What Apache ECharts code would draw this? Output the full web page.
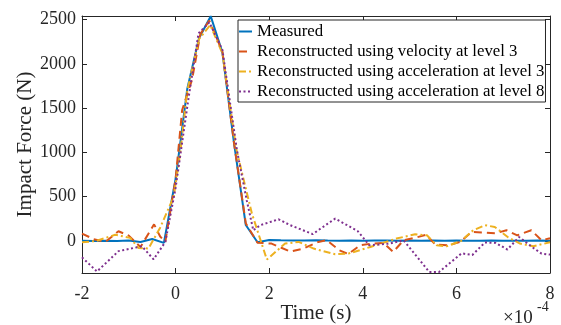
<!DOCTYPE html>
<html>
<head>
<meta charset="utf-8">
<script src="https://cdn.jsdelivr.net/npm/echarts@6/dist/echarts.min.js"></script>
<style>
  html, body { margin: 0; padding: 0; background: #fff; }
  #chart { width: 561px; height: 325px; }
</style>
</head>
<body>
<div id="chart"></div>
<script>
// time in units of 1e-4 s, force in N
const xTicks = [-2, 0, 2, 4, 6, 8];
const yTicks = [0, 500, 1000, 1500, 2000, 2500];

const measuredTime = [-2, -1.75, -1.5, -1.25, -1, -0.75, -0.5, -0.25, 0, 0.25, 0.5, 0.75, 1, 1.25, 1.5, 1.75,
  2, 2.25, 2.5, 2.75, 3, 3.25, 3.5, 3.75, 4, 4.25, 4.5, 4.75, 5, 5.25, 5.5, 5.75, 6, 6.25, 6.5, 6.75, 7, 7.25, 7.5, 7.75, 8];
const measuredForce = [2, 0, 3, 0, 5, -12, 22, -22, 700, 1720, 2290, 2540, 2130, 1100, 180, -15,
  12, 8, 6, 4, 8, 5, 3, 6, 2, 4, 6, 3, 5, 2, 4, 3, 5, 2, 3, 4, 2, 3, 2, 4, 3];

const velocityTime = [-2, -1.75, -1.5, -1.22, -1, -0.75, -0.46, -0.33, -0.22, 0, 0.14, 0.35, 0.53, 0.72, 1, 1.25, 1.5, 1.75,
  2.05, 2.45, 2.73, 3.05, 3.23, 3.5, 3.69, 3.94, 4.2, 4.44, 4.65, 4.87, 5.15, 5.35, 5.55, 5.83, 6.08, 6.33, 6.54, 6.84, 7.07, 7.3, 7.6, 7.82, 8];
const velocityForce = [84, 20, -11, 110, 60, -68, 188, 50, -10, 700, 1480, 1820, 2340, 2490, 2140, 1100, 200, -20,
  -30, -120, -86, -11, 8, -105, -148, -49, -29, -22, -124, 8, 40, 70, -40, -49, -11, 102, 95, 88, 121, 64, 121, 8, 30];

const accel3Time = [-2, -1.7, -1.29, -0.97, -0.79, -0.58, -0.33, -0.04, 0.1, 0.25, 0.5, 0.74, 1, 1.3, 1.63, 1.95,
  2.34, 2.63, 2.95, 3.41, 3.69, 4.16, 4.72, 5.12, 5.37, 5.58, 5.79, 6.1, 6.36, 6.61, 6.82, 7.11, 7.36, 7.64, 8];
const accel3Force = [-15, 0, 70, 35, -80, -85, 150, 500, 1000, 1700, 2280, 2440, 2120, 1030, 310, -210,
  -29, -11, -86, -150, -143, -68, 27, 76, 64, -49, -60, 0, 121, 178, 158, 40, -29, -60, -15];

const accel8Time = [-2, -1.68, -1.22, -0.72, -0.47, -0.22, 0, 0.28, 0.49, 0.72, 1, 1.31, 1.52, 1.66, 1.81, 2.2, 2.45,
  2.93, 3.41, 3.89, 4.14, 4.58, 4.87, 5.22, 5.42, 5.63, 6.11, 6.34, 6.61, 6.84, 7.09, 7.34, 7.64, 7.82, 8];
const accel8Force = [-185, -345, -115, -60, -208, -11, 600, 1628, 2346, 2470, 2160, 1026, 460, 121, 178, 245, 178,
  78, 253, 112, -49, -29, 8, -218, -350, -350, -140, -158, -17, -22, -97, 45, -77, -143, -154];

const pairs = (t, f) => t.map((v, i) => [v, f[i]]);

const font = 'Liberation Serif';
const axisColor = '#262626';

const boxAxis = {
  axisLine: { show: true, onZero: false, lineStyle: { color: axisColor, width: 1 } },
  axisTick: { show: true, inside: true, length: 5, lineStyle: { color: axisColor } },
  splitLine: { show: false },
};

const chart = echarts.init(document.getElementById('chart'));
chart.setOption({
  animation: false,
  backgroundColor: '#fff',
  textStyle: { fontFamily: font },
  grid: { left: 82, right: 11, top: 16, bottom: 52, containLabel: false, outerBoundsMode: 'none' },
  legend: {
    orient: 'vertical',
    left: 238,
    top: 20,
    padding: [3, 1, 2, 0],
    itemGap: 3,
    itemWidth: 13,
    itemHeight: 12,
    backgroundColor: '#fff',
    borderColor: axisColor,
    borderWidth: 1,
    itemStyle: { opacity: 0 },
    textStyle: { fontFamily: font, fontSize: 16.8, color: '#000' },
    data: [
      'Measured',
      'Reconstructed using velocity at level 3',
      'Reconstructed using acceleration at level 3',
      'Reconstructed using acceleration at level 8',
    ],
  },
  xAxis: [
    {
      ...boxAxis,
      type: 'value',
      min: -2,
      max: 8,
      interval: 2,
      name: 'Time (s)',
      nameLocation: 'middle',
      nameGap: 30,
      nameMoveOverlap: false,
      nameTextStyle: { fontFamily: font, fontSize: 21, color: axisColor },
      axisLabel: {
        fontFamily: font, fontSize: 18, color: axisColor, margin: 12,
        customValues: xTicks, formatter: (v) => String(v),
      },
      axisTick: { ...boxAxis.axisTick, customValues: xTicks },
    },
    {
      ...boxAxis,
      type: 'value',
      position: 'top',
      min: -2,
      max: 8,
      interval: 2,
      axisLabel: { show: false },
    },
  ],
  yAxis: [
    {
      ...boxAxis,
      type: 'value',
      min: -362,
      max: 2542,
      name: 'Impact Force (N)',
      nameLocation: 'middle',
      nameGap: 46,
      nameMoveOverlap: false,
      nameTextStyle: { fontFamily: font, fontSize: 21, color: axisColor },
      axisLabel: {
        fontFamily: font, fontSize: 18, color: axisColor, margin: 6,
        customValues: yTicks, formatter: (v) => String(v),
      },
      axisTick: { ...boxAxis.axisTick, customValues: yTicks },
    },
    {
      ...boxAxis,
      type: 'value',
      position: 'right',
      min: -362,
      max: 2542,
      axisLabel: { show: false },
      axisTick: { ...boxAxis.axisTick, customValues: yTicks },
    },
  ],
  graphic: [
    { type: 'text', left: 503, top: 309, style: { text: '×10', font: '19px ' + font, fill: axisColor } },
    { type: 'text', left: 537, top: 300, style: { text: '-4', font: '14px ' + font, fill: axisColor } },
  ],
  series: [
    {
      name: 'Measured',
      type: 'line',
      symbol: 'none',
      data: pairs(measuredTime, measuredForce),
      lineStyle: { color: '#0072BD', width: 2 },
      itemStyle: { color: '#0072BD' },
    },
    {
      name: 'Reconstructed using velocity at level 3',
      type: 'line',
      symbol: 'none',
      data: pairs(velocityTime, velocityForce),
      lineStyle: { color: '#D95319', width: 2, type: [8, 5] },
      itemStyle: { color: '#D95319' },
    },
    {
      name: 'Reconstructed using acceleration at level 3',
      type: 'line',
      symbol: 'none',
      data: pairs(accel3Time, accel3Force),
      lineStyle: { color: '#EDB120', width: 2, type: [7, 3, 2, 3] },
      itemStyle: { color: '#EDB120' },
    },
    {
      name: 'Reconstructed using acceleration at level 8',
      type: 'line',
      symbol: 'none',
      data: pairs(accel8Time, accel8Force),
      lineStyle: { color: '#7E2F8E', width: 2, type: [2, 2.5] },
      itemStyle: { color: '#7E2F8E' },
    },
  ],
});
</script>
</body>
</html>
